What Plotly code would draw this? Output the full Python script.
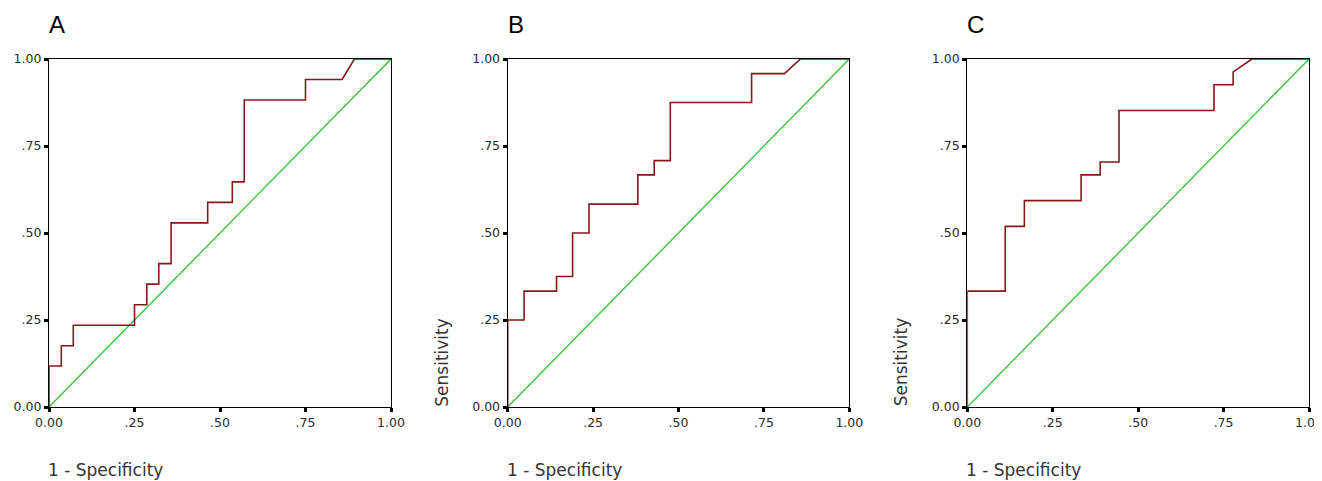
import plotly.graph_objects as go

# ---- data (ROC curve vertices: 1 - specificity, sensitivity) ----
fpr_a = [0.0, 0.0, 0.036, 0.036, 0.071, 0.071, 0.250, 0.250, 0.286, 0.286, 0.321, 0.321,
         0.357, 0.357, 0.464, 0.464, 0.536, 0.536, 0.571, 0.571, 0.750, 0.750, 0.857, 0.893, 1.0]
tpr_a = [0.0, 0.118, 0.118, 0.176, 0.176, 0.235, 0.235, 0.294, 0.294, 0.353, 0.353, 0.412,
         0.412, 0.529, 0.529, 0.588, 0.588, 0.647, 0.647, 0.882, 0.882, 0.941, 0.941, 1.0, 1.0]

fpr_b = [0.0, 0.0, 0.048, 0.048, 0.143, 0.143, 0.190, 0.190, 0.238, 0.238, 0.381, 0.381,
         0.429, 0.429, 0.476, 0.476, 0.714, 0.714, 0.810, 0.857, 1.0]
tpr_b = [0.0, 0.250, 0.250, 0.333, 0.333, 0.375, 0.375, 0.500, 0.500, 0.583, 0.583, 0.667,
         0.667, 0.708, 0.708, 0.875, 0.875, 0.958, 0.958, 1.0, 1.0]

fpr_c = [0.0, 0.0, 0.111, 0.111, 0.167, 0.167, 0.333, 0.333, 0.389, 0.389, 0.444, 0.444,
         0.722, 0.722, 0.778, 0.778, 0.833, 1.0]
tpr_c = [0.0, 0.333, 0.333, 0.519, 0.519, 0.593, 0.593, 0.667, 0.667, 0.704, 0.704, 0.852,
         0.852, 0.926, 0.926, 0.963, 1.0, 1.0]

ref_line = [0.0, 1.0]

panel_letters = ["A", "B", "C"]
tick_vals = [0.0, 0.25, 0.5, 0.75, 1.0]
tick_text = ["0.00", ".25", ".50", ".75", "1.00"]
x_title = "1 - Specificity"
y_title = "Sensitivity"

# ---- layout geometry (page body has an 8px default margin) ----
OFF = 8
W, H = 1322 - OFF, 481 - OFF


def px(v):
    return (v - OFF) / W


def py(v):
    return 1 - (v - OFF) / H


x_domains = [(px(49), px(391)), (px(507.7), px(849.3)), (px(967.3), px(1309))]
y_domain = (py(407), py(59))

curves = [(fpr_a, tpr_a), (fpr_b, tpr_b), (fpr_c, tpr_c)]
lefts = [49, 507.7, 967.3]
CURVE_COLOR = "#861818"
DIAG_COLOR = "#2ec02e"
FONT = "DejaVu Sans, sans-serif"
FONT_LETTER = "Liberation Sans, Arial, sans-serif"

fig = go.Figure()
annotations = []
for i, ((fx, ty), dom) in enumerate(zip(curves, x_domains)):
    xa = "x" if i == 0 else f"x{i+1}"
    ya = "y" if i == 0 else f"y{i+1}"
    fig.add_trace(go.Scatter(x=ref_line, y=ref_line, mode="lines", xaxis=xa, yaxis=ya,
                             line=dict(color=DIAG_COLOR, width=1.3), showlegend=False,
                             hoverinfo="skip"))
    fig.add_trace(go.Scatter(x=fx, y=ty, mode="lines", xaxis=xa, yaxis=ya,
                             line=dict(color=CURVE_COLOR, width=1.6), showlegend=False))
    axis_common = dict(range=[0, 1], tickvals=tick_vals, ticktext=tick_text,
                       showgrid=False, zeroline=False, showline=True, mirror=True,
                       linecolor="black", linewidth=1.3, ticks="outside", ticklen=4,
                       tickwidth=2.5, tickcolor="black", automargin=False,
                       ticklabeloverflow="allow",
                       tickfont=dict(family=FONT, size=12.5, color="#2a2a2a"))
    xkey = "xaxis" if i == 0 else f"xaxis{i+1}"
    ykey = "yaxis" if i == 0 else f"yaxis{i+1}"
    fig.update_layout({
        xkey: dict(domain=list(dom), anchor=ya, **axis_common),
        ykey: dict(domain=list(y_domain), anchor=xa, **axis_common),
    })
    left = lefts[i]
    # panel letter
    annotations.append(dict(text=panel_letters[i], x=px(left - 2), y=py(24), xref="paper", yref="paper",
                            xanchor="left", yanchor="middle", showarrow=False,
                            font=dict(family=FONT_LETTER, size=24, color="black")))
    # x title
    annotations.append(dict(text=x_title, x=px(left - 3), y=py(470), xref="paper", yref="paper",
                            xanchor="left", yanchor="middle", showarrow=False,
                            font=dict(family=FONT, size=17, color="#333333")))
    # y title (not visible in panel A)
    if i > 0:
        annotations.append(dict(text=y_title, x=px(left - 66), y=py(362), xref="paper",
                                yref="paper", xanchor="center", yanchor="middle", textangle=-90,
                                showarrow=False,
                                font=dict(family=FONT, size=17, color="#333333")))

fig.update_layout(width=W, height=H, margin=dict(l=0, r=0, t=0, b=0),
                  paper_bgcolor="white", plot_bgcolor="white",
                  annotations=annotations, showlegend=False)

fig.write_html("out.html")
